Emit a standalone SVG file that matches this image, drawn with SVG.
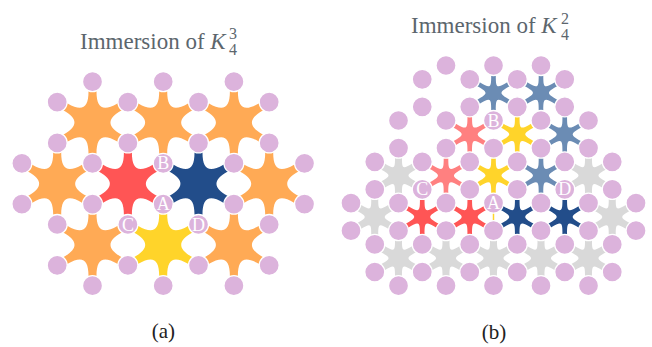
<svg xmlns="http://www.w3.org/2000/svg" xmlns:xlink="http://www.w3.org/1999/xlink" width="652" height="347" viewBox="0 0 652 347">
<defs>
<style>
.v{fill:#dcb3dc;stroke:#fff;stroke-width:1.3}
.lbl{font-family:"Liberation Serif","Times New Roman",serif;font-size:18px;fill:#fff;text-anchor:middle}
.title{font-family:"Liberation Serif","Times New Roman",serif;font-size:23px;fill:#5c666d}
.sc{font-family:"Liberation Serif","Times New Roman",serif;font-size:16px;fill:#5c666d}
.cap{font-family:"Liberation Serif","Times New Roman",serif;font-size:21px;fill:#222;text-anchor:middle}
.or{fill:#ffaa55}.rd{fill:#ff5555}.db{fill:#224d8a}.ye{fill:#ffd42a}.sa{fill:#ff8080}.sb{fill:#6b8cb4}.gr{fill:#d9d9d9}
</style>
<path id="starL" d="M-4,-31 L-4,-40 L4,-40 L4,-31 C4,-14.3 10.384,-10.614 24.846,-18.964 L32.64,-23.464 L36.64,-16.536 L28.846,-12.036 C14.384,-3.686 14.384,3.686 28.846,12.036 L36.64,16.536 L32.64,23.464 L24.846,18.964 C10.384,10.614 4,14.3 4,31 L4,40 L-4,40 L-4,31 C-4,14.3 -10.384,10.614 -24.846,18.964 L-32.64,23.464 L-36.64,16.536 L-28.846,12.036 C-14.384,3.686 -14.384,-3.686 -28.846,-12.036 L-36.64,-16.536 L-32.64,-23.464 L-24.846,-18.964 C-10.384,-10.614 -4,-14.3 -4,-31 Z"/>
<path id="starS" d="M-2.3,-17.3 L-2.3,-27 L2.3,-27 L2.3,-17.3 C2.3,-4.8 3.007,-4.392 13.83,-10.642 L22.23,-15.492 L24.53,-11.508 L16.13,-6.658 C5.307,-0.408 5.307,0.408 16.13,6.658 L24.53,11.508 L22.23,15.492 L13.83,10.642 C3.007,4.392 2.3,4.8 2.3,17.3 L2.3,27 L-2.3,27 L-2.3,17.3 C-2.3,4.8 -3.007,4.392 -13.83,10.642 L-22.23,15.492 L-24.53,11.508 L-16.13,6.658 C-5.307,0.408 -5.307,-0.408 -16.13,-6.658 L-24.53,-11.508 L-22.23,-15.492 L-13.83,-10.642 C-3.007,-4.392 -2.3,-4.8 -2.3,-17.3 Z"/>
<path id="starG" d="M-3.5,-17.6 L-3.5,-27 L3.5,-27 L3.5,-17.6 C3.5,-6.8 4.139,-6.431 13.49,-11.831 L21.63,-16.531 L25.13,-10.469 L16.99,-5.769 C7.639,-0.369 7.639,0.369 16.99,5.769 L25.13,10.469 L21.63,16.531 L13.49,11.831 C4.139,6.431 3.5,6.8 3.5,17.6 L3.5,27 L-3.5,27 L-3.5,17.6 C-3.5,6.8 -4.139,6.431 -13.49,11.831 L-21.63,16.531 L-25.13,10.469 L-16.99,5.769 C-7.639,0.369 -7.639,-0.369 -16.99,-5.769 L-25.13,-10.469 L-21.63,-16.531 L-13.49,-11.831 C-4.139,-6.431 -3.5,-6.8 -3.5,-17.6 Z"/>
</defs>
<rect width="652" height="347" fill="#fff"/>

<!-- titles -->
<text class="title" x="80" y="48.5">Immersion of <tspan font-style="italic">K</tspan></text>
<text class="sc" x="229" y="39">3</text>
<text class="sc" x="229" y="55">4</text>
<text class="title" x="411" y="32.5">Immersion of <tspan font-style="italic">K</tspan></text>
<text class="sc" x="561" y="23.5">2</text>
<text class="sc" x="561" y="40">4</text>

<!-- (a) stars -->
<g id="a-faces">
<g id="a-f1"><use xlink:href="#starL" class="or" x="92.5" y="122.5"/></g>
<g id="a-f2"><use xlink:href="#starL" class="or" x="163.2" y="122.5"/></g>
<g id="a-f3"><use xlink:href="#starL" class="or" x="233.9" y="122.5"/></g>
<g id="a-f4"><use xlink:href="#starL" class="or" x="57.2" y="183.7"/></g>
<g id="a-f5"><use xlink:href="#starL" class="rd" x="127.9" y="183.7"/></g>
<g id="a-f6"><use xlink:href="#starL" class="db" x="198.5" y="183.7"/></g>
<g id="a-f7"><use xlink:href="#starL" class="or" x="269.2" y="183.7"/></g>
<g id="a-f8"><use xlink:href="#starL" class="or" x="92.5" y="244.9"/></g>
<g id="a-f9"><use xlink:href="#starL" class="ye" x="163.2" y="244.9"/></g>
<g id="a-f10"><use xlink:href="#starL" class="or" x="233.9" y="244.9"/></g>
</g>

<!-- (a) vertices -->
<g id="a-vertices">
<circle class="v" cx="92.5" cy="81.7" r="10"/><circle class="v" cx="163.2" cy="81.7" r="10"/><circle class="v" cx="233.9" cy="81.7" r="10"/>
<circle class="v" cx="57.2" cy="102.1" r="10"/><circle class="v" cx="127.9" cy="102.1" r="10"/><circle class="v" cx="198.5" cy="102.1" r="10"/><circle class="v" cx="269.2" cy="102.1" r="10"/>
<circle class="v" cx="57.2" cy="142.9" r="10"/><circle class="v" cx="127.9" cy="142.9" r="10"/><circle class="v" cx="198.5" cy="142.9" r="10"/><circle class="v" cx="269.2" cy="142.9" r="10"/>
<circle class="v" cx="21.9" cy="163.3" r="10"/><circle class="v" cx="92.5" cy="163.3" r="10"/><circle class="v" cx="233.9" cy="163.3" r="10"/><circle class="v" cx="304.5" cy="163.3" r="10"/>
<circle class="v" cx="21.9" cy="204.1" r="10"/><circle class="v" cx="92.5" cy="204.1" r="10"/><circle class="v" cx="233.9" cy="204.1" r="10"/><circle class="v" cx="304.5" cy="204.1" r="10"/>
<circle class="v" cx="57.2" cy="224.5" r="10"/><circle class="v" cx="269.2" cy="224.5" r="10"/>
<circle class="v" cx="57.2" cy="265.3" r="10"/><circle class="v" cx="127.9" cy="265.3" r="10"/><circle class="v" cx="198.5" cy="265.3" r="10"/><circle class="v" cx="269.2" cy="265.3" r="10"/>
<circle class="v" cx="92.5" cy="285.7" r="10"/><circle class="v" cx="163.2" cy="285.7" r="10"/><circle class="v" cx="233.9" cy="285.7" r="10"/>
</g>
<g id="a-B"><circle class="v" cx="163.2" cy="163.3" r="10"/><text class="lbl" x="163.2" y="169.3">B</text></g>
<g id="a-A"><circle class="v" cx="163.2" cy="204.1" r="10"/><text class="lbl" x="163.2" y="210.1">A</text></g>
<g id="a-C"><circle class="v" cx="127.9" cy="224.5" r="10"/><text class="lbl" x="127.9" y="230.5">C</text></g>
<g id="a-D"><circle class="v" cx="198.5" cy="224.5" r="10"/><text class="lbl" x="198.5" y="230.5">D</text></g>

<!-- (b) stars -->
<g id="b-faces">
<g id="b-f1"><use xlink:href="#starS" class="sb" x="493.5" y="93"/></g>
<g id="b-f2"><use xlink:href="#starS" class="sb" x="541" y="93"/></g>
<g id="b-f3"><use xlink:href="#starS" class="sa" x="469.75" y="134.3"/></g>
<g id="b-f4"><use xlink:href="#starS" class="ye" x="517.25" y="134.3"/></g>
<g id="b-f5"><use xlink:href="#starS" class="sb" x="564.75" y="134.3"/></g>
<g id="b-f6"><use xlink:href="#starG" class="gr" x="398.5" y="175.6"/></g>
<g id="b-f7"><use xlink:href="#starS" class="sa" x="446" y="175.6"/></g>
<g id="b-f8"><use xlink:href="#starS" class="ye" x="493.5" y="175.6"/></g>
<g id="b-f9"><use xlink:href="#starS" class="sb" x="541" y="175.6"/></g>
<g id="b-f10"><use xlink:href="#starG" class="gr" x="588.5" y="175.6"/></g>
<g id="b-f11"><use xlink:href="#starG" class="gr" x="374.75" y="216.9"/></g>
<g id="b-f12"><use xlink:href="#starS" class="rd" x="422.25" y="216.9"/></g>
<g id="b-f13"><use xlink:href="#starS" class="rd" x="469.75" y="216.9"/></g>
<g id="b-f14"><use xlink:href="#starS" class="db" x="517.25" y="216.9"/></g>
<g id="b-f15"><use xlink:href="#starS" class="db" x="564.75" y="216.9"/></g>
<g id="b-f16"><use xlink:href="#starG" class="gr" x="612.25" y="216.9"/></g>
<g id="b-f17"><use xlink:href="#starG" class="gr" x="398.5" y="258.2"/></g>
<g id="b-f18"><use xlink:href="#starG" class="gr" x="446" y="258.2"/></g>
<g id="b-f19"><use xlink:href="#starG" class="gr" x="493.5" y="258.2"/></g>
<g id="b-f20"><use xlink:href="#starG" class="gr" x="541" y="258.2"/></g>
<g id="b-f21"><use xlink:href="#starG" class="gr" x="588.5" y="258.2"/></g>
</g>
<g id="b-edges"><line x1="493.5" y1="203.1" x2="493.5" y2="230.7" stroke="#ffd42a" stroke-width="1.5"/></g>

<!-- (b) vertices -->
<g id="b-vertices">
<circle class="v" cx="446" cy="65.5" r="10"/><circle class="v" cx="493.5" cy="65.5" r="10"/><circle class="v" cx="541" cy="65.5" r="10"/>
<circle class="v" cx="422.25" cy="79.3" r="10"/><circle class="v" cx="469.75" cy="79.3" r="10"/><circle class="v" cx="517.25" cy="79.3" r="10"/><circle class="v" cx="564.75" cy="79.3" r="10"/>
<circle class="v" cx="422.25" cy="106.8" r="10"/><circle class="v" cx="469.75" cy="106.8" r="10"/><circle class="v" cx="517.25" cy="106.8" r="10"/><circle class="v" cx="564.75" cy="106.8" r="10"/>
<circle class="v" cx="398.5" cy="120.5" r="10"/><circle class="v" cx="446" cy="120.5" r="10"/><circle class="v" cx="541" cy="120.5" r="10"/><circle class="v" cx="588.5" cy="120.5" r="10"/>
<circle class="v" cx="398.5" cy="148.1" r="10"/><circle class="v" cx="446" cy="148.1" r="10"/><circle class="v" cx="493.5" cy="148.1" r="10"/><circle class="v" cx="541" cy="148.1" r="10"/><circle class="v" cx="588.5" cy="148.1" r="10"/>
<circle class="v" cx="374.75" cy="161.8" r="10"/><circle class="v" cx="422.25" cy="161.8" r="10"/><circle class="v" cx="469.75" cy="161.8" r="10"/><circle class="v" cx="517.25" cy="161.8" r="10"/><circle class="v" cx="564.75" cy="161.8" r="10"/><circle class="v" cx="612.25" cy="161.8" r="10"/>
<circle class="v" cx="374.75" cy="189.4" r="10"/><circle class="v" cx="469.75" cy="189.4" r="10"/><circle class="v" cx="517.25" cy="189.4" r="10"/><circle class="v" cx="612.25" cy="189.4" r="10"/>
<circle class="v" cx="351" cy="203.1" r="10"/><circle class="v" cx="398.5" cy="203.1" r="10"/><circle class="v" cx="446" cy="203.1" r="10"/><circle class="v" cx="541" cy="203.1" r="10"/><circle class="v" cx="588.5" cy="203.1" r="10"/><circle class="v" cx="636" cy="203.1" r="10"/>
<circle class="v" cx="351" cy="230.7" r="10"/><circle class="v" cx="398.5" cy="230.7" r="10"/><circle class="v" cx="446" cy="230.7" r="10"/><circle class="v" cx="493.5" cy="230.7" r="10"/><circle class="v" cx="541" cy="230.7" r="10"/><circle class="v" cx="588.5" cy="230.7" r="10"/><circle class="v" cx="636" cy="230.7" r="10"/>
<circle class="v" cx="374.75" cy="244.4" r="10"/><circle class="v" cx="422.25" cy="244.4" r="10"/><circle class="v" cx="469.75" cy="244.4" r="10"/><circle class="v" cx="517.25" cy="244.4" r="10"/><circle class="v" cx="564.75" cy="244.4" r="10"/><circle class="v" cx="612.25" cy="244.4" r="10"/>
<circle class="v" cx="374.75" cy="272" r="10"/><circle class="v" cx="422.25" cy="272" r="10"/><circle class="v" cx="469.75" cy="272" r="10"/><circle class="v" cx="517.25" cy="272" r="10"/><circle class="v" cx="564.75" cy="272" r="10"/><circle class="v" cx="612.25" cy="272" r="10"/>
<circle class="v" cx="398.5" cy="285.7" r="10"/><circle class="v" cx="446" cy="285.7" r="10"/><circle class="v" cx="493.5" cy="285.7" r="10"/><circle class="v" cx="541" cy="285.7" r="10"/><circle class="v" cx="588.5" cy="285.7" r="10"/>
</g>
<g id="b-B"><circle class="v" cx="493.5" cy="120.5" r="10"/><text class="lbl" x="493.5" y="126.5">B</text></g>
<g id="b-C"><circle class="v" cx="422.25" cy="189.4" r="10"/><text class="lbl" x="422.25" y="195.4">C</text></g>
<g id="b-D"><circle class="v" cx="564.75" cy="189.4" r="10"/><text class="lbl" x="564.75" y="195.4">D</text></g>
<g id="b-A"><circle class="v" cx="493.5" cy="203.1" r="10"/><text class="lbl" x="493.5" y="209.1">A</text></g>

<!-- captions -->
<text class="cap" x="163.3" y="338">(a)</text>
<text class="cap" x="494" y="338.5">(b)</text>
</svg>
